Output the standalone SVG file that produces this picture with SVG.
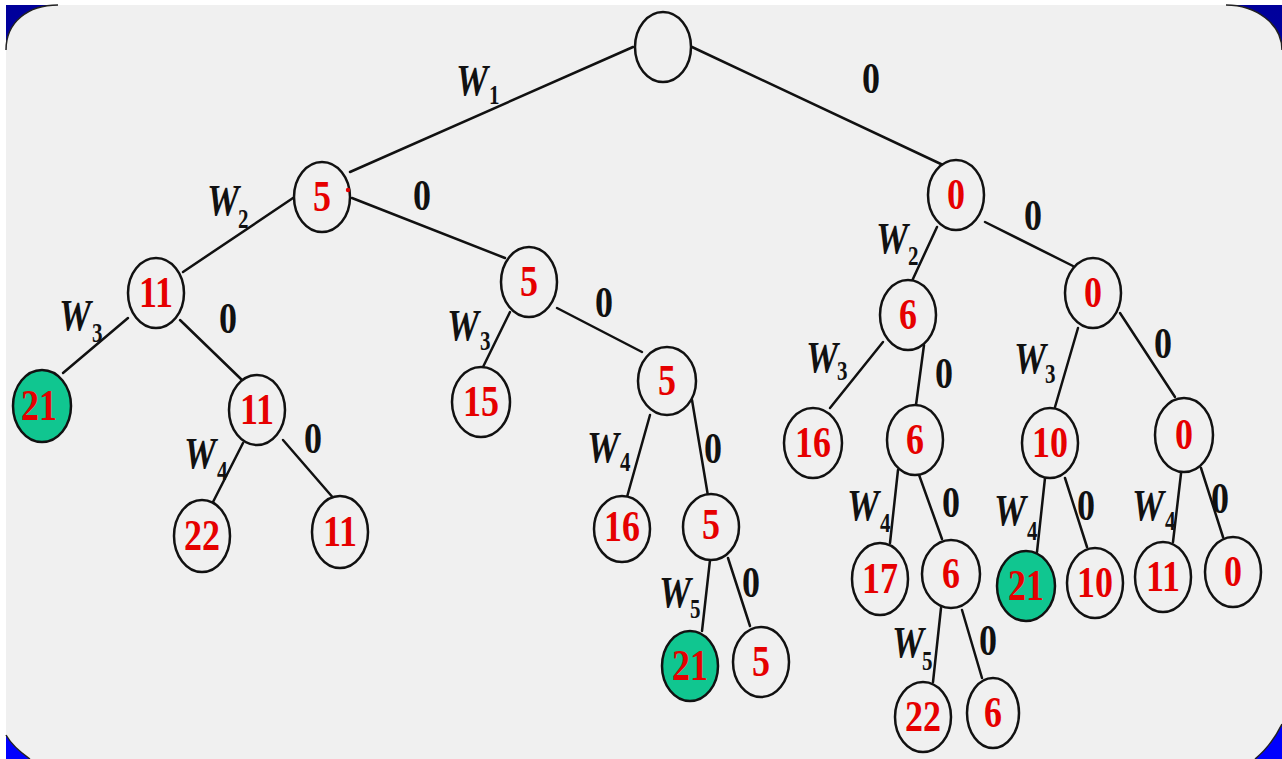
<svg xmlns="http://www.w3.org/2000/svg" width="1282" height="759" viewBox="0 0 1282 759">
  <defs>
    <linearGradient id="frameBlue" x1="0" y1="0" x2="0" y2="1">
      <stop offset="0" stop-color="#00009a"/>
      <stop offset="1" stop-color="#0000ff"/>
    </linearGradient>
    <style>
      .node { fill: #f0f0f0; stroke: #111; stroke-width: 2.5; }
      .goal { fill: #10c690; stroke: #111; stroke-width: 2.5; }
      .val { font-family: "Liberation Serif", "Times New Roman", serif; font-weight: bold; font-size: 36px; fill: #e60000; text-anchor: middle; }
      .zero { font-family: "Liberation Serif", "Times New Roman", serif; font-weight: bold; font-size: 36px; fill: #111; text-anchor: middle; }
      .w { font-family: "Liberation Serif", "Times New Roman", serif; font-weight: bold; font-style: italic; font-size: 36px; fill: #111; }
      .sub { font-family: "Liberation Serif", "Times New Roman", serif; font-weight: bold; font-size: 21px; fill: #111; }
      #edges line { stroke: #111; stroke-width: 2.5; stroke-linecap: round; }
      .rim { fill: none; stroke: #222; stroke-width: 1.5; }
    </style>
  </defs>

  <!-- frame -->
  <rect x="0" y="0" width="1282" height="759" fill="#ffffff"/>
  <rect x="6" y="5" width="1276" height="754" fill="url(#frameBlue)"/>
  <path d="M6,50 C6,22 28,5 58,5 L1226,5 C1256,5 1282,24 1282,50 L1282,724 C1274,740 1265,751 1255,759 L30,759 C20,752 11,744 6,735 Z" fill="#f0f0f0"/>
  <path class="rim" d="M6,50 C6,22 28,5 58,5"/>
  <path class="rim" d="M1226,5 C1256,5 1282,24 1282,50"/>
  <path class="rim" d="M1282,724 C1274,740 1265,751 1255,759"/>
  <path class="rim" d="M30,759 C20,752 11,744 6,735"/>

  <!-- connectors -->
  <g id="edges">
    <line x1="633" y1="47" x2="350" y2="172"/>
    <line x1="692" y1="47" x2="943" y2="165"/>
    <line x1="293" y1="198" x2="183" y2="272"/>
    <line x1="352" y1="198" x2="505" y2="258"/>
    <line x1="128" y1="318" x2="63" y2="373"/>
    <line x1="180" y1="320" x2="242" y2="380"/>
    <line x1="243" y1="443" x2="213" y2="502"/>
    <line x1="283" y1="440" x2="335" y2="500"/>
    <line x1="510" y1="312" x2="483" y2="367"/>
    <line x1="557" y1="308" x2="642" y2="352"/>
    <line x1="650" y1="415" x2="627" y2="497"/>
    <line x1="692" y1="400" x2="708" y2="496"/>
    <line x1="710" y1="560" x2="702" y2="631"/>
    <line x1="728" y1="558" x2="750" y2="626"/>
    <line x1="937" y1="227" x2="912" y2="281"/>
    <line x1="985" y1="222" x2="1073" y2="266"/>
    <line x1="883" y1="342" x2="830" y2="408"/>
    <line x1="924" y1="345" x2="916" y2="405"/>
    <line x1="1078" y1="328" x2="1055" y2="407"/>
    <line x1="1120" y1="313" x2="1175" y2="397"/>
    <line x1="898" y1="470" x2="890" y2="543"/>
    <line x1="918" y1="472" x2="942" y2="539"/>
    <line x1="1045" y1="478" x2="1037" y2="552"/>
    <line x1="1065" y1="478" x2="1087" y2="547"/>
    <line x1="1182" y1="465" x2="1173" y2="542"/>
    <line x1="1201" y1="468" x2="1223" y2="537"/>
    <line x1="941" y1="608" x2="933" y2="682"/>
    <line x1="962" y1="610" x2="982" y2="678"/>
  </g>

  <!-- edge labels -->
  <g id="edge-labels">
    <text class="w" transform="translate(456 95) scale(1 1.25)">W</text>
    <text class="sub" transform="translate(489 104) scale(1 1.25)">1</text>
    <text class="zero" transform="translate(871 93) scale(1 1.25)">0</text>

    <text class="w" transform="translate(207 215) scale(1 1.25)">W</text>
    <text class="sub" transform="translate(238 228) scale(1 1.25)">2</text>
    <text class="zero" transform="translate(422 210) scale(1 1.25)">0</text>

    <text class="w" transform="translate(59 330) scale(1 1.25)">W</text>
    <text class="sub" transform="translate(92 342) scale(1 1.25)">3</text>
    <text class="zero" transform="translate(228 333) scale(1 1.25)">0</text>

    <text class="w" transform="translate(184 468) scale(1 1.25)">W</text>
    <text class="sub" transform="translate(217 480) scale(1 1.25)">4</text>
    <text class="zero" transform="translate(313 453) scale(1 1.25)">0</text>

    <text class="w" transform="translate(447 340) scale(1 1.25)">W</text>
    <text class="sub" transform="translate(480 350) scale(1 1.25)">3</text>
    <text class="zero" transform="translate(604 317) scale(1 1.25)">0</text>

    <text class="w" transform="translate(587 462) scale(1 1.25)">W</text>
    <text class="sub" transform="translate(620 471) scale(1 1.25)">4</text>
    <text class="zero" transform="translate(713 463) scale(1 1.25)">0</text>

    <text class="w" transform="translate(659 607) scale(1 1.25)">W</text>
    <text class="sub" transform="translate(690 618) scale(1 1.25)">5</text>
    <text class="zero" transform="translate(751 597) scale(1 1.25)">0</text>

    <text class="w" transform="translate(876 253) scale(1 1.25)">W</text>
    <text class="sub" transform="translate(908 265) scale(1 1.25)">2</text>
    <text class="zero" transform="translate(1033 230) scale(1 1.25)">0</text>

    <text class="w" transform="translate(806 372) scale(1 1.25)">W</text>
    <text class="sub" transform="translate(837 380) scale(1 1.25)">3</text>
    <text class="zero" transform="translate(944 388) scale(1 1.25)">0</text>

    <text class="w" transform="translate(1014 373) scale(1 1.25)">W</text>
    <text class="sub" transform="translate(1045 383) scale(1 1.25)">3</text>
    <text class="zero" transform="translate(1163 358) scale(1 1.25)">0</text>

    <text class="w" transform="translate(847 520) scale(1 1.25)">W</text>
    <text class="sub" transform="translate(880 532) scale(1 1.25)">4</text>
    <text class="zero" transform="translate(951 517) scale(1 1.25)">0</text>

    <text class="w" transform="translate(994 525) scale(1 1.25)">W</text>
    <text class="sub" transform="translate(1027 540) scale(1 1.25)">4</text>
    <text class="zero" transform="translate(1086 520) scale(1 1.25)">0</text>

    <text class="w" transform="translate(1132 520) scale(1 1.25)">W</text>
    <text class="sub" transform="translate(1165 530) scale(1 1.25)">4</text>
    <text class="zero" transform="translate(1220 513) scale(1 1.25)">0</text>

    <text class="w" transform="translate(892 657) scale(1 1.25)">W</text>
    <text class="sub" transform="translate(922 670) scale(1 1.25)">5</text>
    <text class="zero" transform="translate(988 655) scale(1 1.25)">0</text>
  </g>

  <!-- nodes -->
  <g id="n0"><ellipse class="node" cx="663" cy="47" rx="28" ry="35"/></g>
  <g id="n1"><ellipse class="node" cx="322" cy="197" rx="28" ry="35"/><text class="val" transform="translate(322 211) scale(1 1.25)">5</text><circle cx="348" cy="190" r="2.2" fill="#e60000"/></g>
  <g id="n2"><ellipse class="node" cx="956" cy="195" rx="28" ry="35"/><text class="val" transform="translate(956 209) scale(1 1.25)">0</text></g>
  <g id="n3"><ellipse class="node" cx="156" cy="293" rx="28" ry="35"/><text class="val" transform="translate(156 307) scale(1 1.25)">11</text></g>
  <g id="n4"><ellipse class="node" cx="529" cy="282" rx="28" ry="35"/><text class="val" transform="translate(529 296) scale(1 1.25)">5</text></g>
  <g id="n5"><ellipse class="node" cx="908" cy="315" rx="28" ry="35"/><text class="val" transform="translate(908 329) scale(1 1.25)">6</text></g>
  <g id="n6"><ellipse class="node" cx="1093" cy="293" rx="28" ry="35"/><text class="val" transform="translate(1093 307) scale(1 1.25)">0</text></g>
  <g id="n7"><ellipse class="goal" cx="42" cy="406" rx="29" ry="36"/><text class="val" transform="translate(39 420) scale(1 1.25)">21</text></g>
  <g id="n8"><ellipse class="node" cx="257" cy="410" rx="28" ry="35"/><text class="val" transform="translate(257 424) scale(1 1.25)">11</text></g>
  <g id="n9"><ellipse class="node" cx="481" cy="402" rx="29" ry="35"/><text class="val" transform="translate(481 416) scale(1 1.25)">15</text></g>
  <g id="n10"><ellipse class="node" cx="667" cy="381" rx="29" ry="34"/><text class="val" transform="translate(667 395) scale(1 1.25)">5</text></g>
  <g id="n11"><ellipse class="node" cx="813" cy="443" rx="29" ry="35"/><text class="val" transform="translate(813 457) scale(1 1.25)">16</text></g>
  <g id="n12"><ellipse class="node" cx="915" cy="440" rx="28" ry="35"/><text class="val" transform="translate(915 454) scale(1 1.25)">6</text></g>
  <g id="n13"><ellipse class="node" cx="1050" cy="443" rx="28" ry="35"/><text class="val" transform="translate(1050 457) scale(1 1.25)">10</text></g>
  <g id="n14"><ellipse class="node" cx="1184" cy="435" rx="29" ry="37"/><text class="val" transform="translate(1184 449) scale(1 1.25)">0</text></g>
  <g id="n15"><ellipse class="node" cx="202" cy="536" rx="28" ry="36"/><text class="val" transform="translate(202 550) scale(1 1.25)">22</text></g>
  <g id="n16"><ellipse class="node" cx="340" cy="532" rx="28" ry="36"/><text class="val" transform="translate(340 546) scale(1 1.25)">11</text></g>
  <g id="n17"><ellipse class="node" cx="622" cy="529" rx="28" ry="33"/><text class="val" transform="translate(622 541) scale(1 1.25)">16</text></g>
  <g id="n18"><ellipse class="node" cx="711" cy="527" rx="28" ry="33"/><text class="val" transform="translate(711 539) scale(1 1.25)">5</text></g>
  <g id="n19"><ellipse class="node" cx="880" cy="579" rx="28" ry="36"/><text class="val" transform="translate(880 593) scale(1 1.25)">17</text></g>
  <g id="n20"><ellipse class="node" cx="951" cy="574" rx="29" ry="34"/><text class="val" transform="translate(951 588) scale(1 1.25)">6</text></g>
  <g id="n21"><ellipse class="goal" cx="1026" cy="586" rx="29" ry="35"/><text class="val" transform="translate(1026 600) scale(1 1.25)">21</text></g>
  <g id="n22"><ellipse class="node" cx="1095" cy="583" rx="28" ry="35"/><text class="val" transform="translate(1095 597) scale(1 1.25)">10</text></g>
  <g id="n23"><ellipse class="node" cx="1163" cy="577" rx="28" ry="35"/><text class="val" transform="translate(1163 591) scale(1 1.25)">11</text></g>
  <g id="n24"><ellipse class="node" cx="1233" cy="572" rx="28" ry="35"/><text class="val" transform="translate(1233 586) scale(1 1.25)">0</text></g>
  <g id="n25"><ellipse class="goal" cx="690" cy="666" rx="28" ry="35"/><text class="val" transform="translate(690 680) scale(1 1.25)">21</text></g>
  <g id="n26"><ellipse class="node" cx="761" cy="662" rx="28" ry="35"/><text class="val" transform="translate(761 676) scale(1 1.25)">5</text></g>
  <g id="n27"><ellipse class="node" cx="923" cy="717" rx="28" ry="35"/><text class="val" transform="translate(923 731) scale(1 1.25)">22</text></g>
  <g id="n28"><ellipse class="node" cx="993" cy="713" rx="26" ry="35"/><text class="val" transform="translate(993 727) scale(1 1.25)">6</text></g>
</svg>
